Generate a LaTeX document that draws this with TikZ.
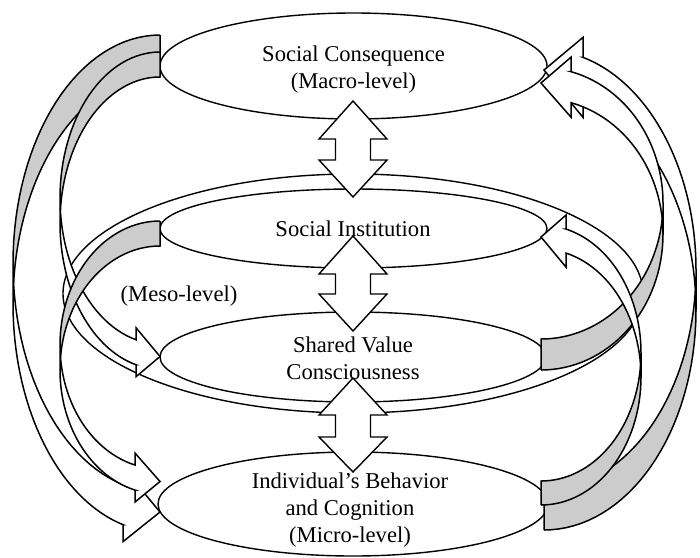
\documentclass[tikz,border=0pt]{standalone}
\usepackage{fontspec}
\setmainfont{Liberation Serif}
\definecolor{backgray}{RGB}{204,204,204}
\tikzset{
  bubble/.style={draw=black, fill=white, line width=1.4pt},
  arrline/.style={draw=black, line width=1.5pt, line join=miter},
  txt/.style={font=\fontsize{22.6}{27}\selectfont, align=center, inner sep=0pt},
}
% curved ribbon arrow (Word-style): x, y, rotation, w, hR, thickness, head width, head length
\newcommand{\cvarrow}[8]{%
\begin{scope}[shift={(#1,#2)}, rotate=#3, samples=60]
\pgfmathsetmacro{\cw}{#4}
\pgfmathsetmacro{\chr}{#5}
\pgfmathsetmacro{\cth}{#6}
\pgfmathsetmacro{\caw}{#7}
\pgfmathsetmacro{\cah}{#8}
\pgfmathsetmacro{\cph}{acos(\cah/\cw)}
\pgfmathsetmacro{\cea}{180-\cph}
\pgfmathsetmacro{\cdy}{\chr*sin(\cph)}
\pgfmathsetmacro{\cyf}{\chr+\cdy}
\pgfmathsetmacro{\cys}{\cyf+\cth}
\pgfmathsetmacro{\cdh}{(\caw-\cth)/2}
\pgfmathsetmacro{\cyv}{\cyf-\cdh}
\pgfmathsetmacro{\cye}{\cys+\cdh}
\pgfmathsetmacro{\cyt}{2*\chr+\cth/2}
\pgfmathsetmacro{\cps}{asin(\cth/(2*\chr))}
\pgfmathsetmacro{\cga}{180+\cps}
\pgfmathsetmacro{\cgb}{180-\cps}
\pgfmathsetmacro{\cc}{\chr+\cth}
\fill[white] (-\cw,\chr) -- plot[domain=180:\cea] ({\cw*cos(\x)},{\chr+\chr*sin(\x)})
  -- (-\cah,\cyv) -- (0,\cyt) -- (-\cah,\cye) -- (-\cah,\cys)
  -- plot[domain=\cea:180] ({\cw*cos(\x)},{\cc+\chr*sin(\x)}) -- cycle;
\fill[backgray] (0,\cth) -- plot[domain=270:\cga] ({\cw*cos(\x)},{\cc+\chr*sin(\x)})
  -- plot[domain=\cgb:270] ({\cw*cos(\x)},{\chr+\chr*sin(\x)}) -- cycle;
\draw[arrline] (0,0) -- plot[domain=270:\cea] ({\cw*cos(\x)},{\chr+\chr*sin(\x)})
  -- (-\cah,\cyv) -- (0,\cyt) -- (-\cah,\cye) -- (-\cah,\cys)
  -- plot[domain=\cea:180] ({\cw*cos(\x)},{\cc+\chr*sin(\x)}) -- (-\cw,\chr);
\draw[arrline] (0,0) -- (0,\cth) -- plot[domain=270:\cga] ({\cw*cos(\x)},{\cc+\chr*sin(\x)});
\end{scope}}
% up-down block arrow: top tip, head base, lower head base, bottom tip
\newcommand{\udarrow}[4]{%
\draw[bubble, line join=miter] (353,#1) -- (387,#2) -- (370.5,#2) -- (370.5,#3) -- (387,#3)
  -- (353,#4) -- (319,#3) -- (335.5,#3) -- (335.5,#2) -- (319,#2) -- cycle;}
\begin{document}
\begin{tikzpicture}[x=1pt, y=-1pt]
\fill[white] (0,0) rectangle (700,557);
\useasboundingbox (0,0) rectangle (700,557);
% meso-level ellipse
\draw[bubble] (353,293.5) ellipse [x radius=290, y radius=119.5];
% level ellipses
\draw[bubble] (353.5,66) ellipse [x radius=193.5, y radius=53];
\draw[bubble] (353.5,228.5) ellipse [x radius=193.5, y radius=39.5];
\draw[bubble] (353,357) ellipse [x radius=193, y radius=45];
\draw[bubble] (353,504) ellipse [x radius=195, y radius=52];
% up-down arrows
\udarrow{101}{139}{160}{197}
\udarrow{236}{274}{294}{331}
\udarrow{378}{415}{437}{472}
% left curved arrows
\cvarrow{160}{35}{0}{147}{228.5}{40}{74}{37}
\cvarrow{160}{52}{0}{100}{146}{25}{49}{24}
\cvarrow{160}{221}{0}{100}{124}{25}{49}{25}
% right curved arrows
\cvarrow{544}{530}{180}{152}{220}{40}{80}{39}
\cvarrow{541}{370}{180}{122}{135.75}{31}{60}{30}
\cvarrow{541}{505}{180}{100}{128}{24}{52}{25}
% texts
\node[txt] (sc) at (353.5,70) {Social Consequence\\(Macro-level)};
\node[txt] (si) at (353,229) {Social Institution};
\node[txt] (meso) at (179,296) {(Meso-level)};
\node[txt] (sv) at (353,358) {Shared Value\\Consciousness};
\node[txt] (ib) at (350,510) {Individual’s Behavior\\and Cognition\\(Micro-level)};
\end{tikzpicture}
\end{document}
